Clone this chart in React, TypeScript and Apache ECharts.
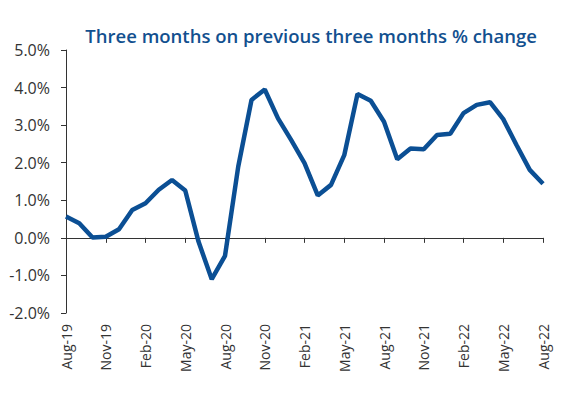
import React, { useEffect, useRef } from "react";
import * as echarts from "echarts";

const months: string[] = [
  "Aug-19", "Sep-19", "Oct-19", "Nov-19", "Dec-19",
  "Jan-20", "Feb-20", "Mar-20", "Apr-20", "May-20", "Jun-20", "Jul-20", "Aug-20", "Sep-20", "Oct-20", "Nov-20", "Dec-20",
  "Jan-21", "Feb-21", "Mar-21", "Apr-21", "May-21", "Jun-21", "Jul-21", "Aug-21", "Sep-21", "Oct-21", "Nov-21", "Dec-21",
  "Jan-22", "Feb-22", "Mar-22", "Apr-22", "May-22", "Jun-22", "Jul-22", "Aug-22",
];

const changePct: number[] = [
  0.57, 0.39, 0.01, 0.03, 0.23,
  0.74, 0.92, 1.28, 1.54, 1.26, -0.1, -1.1, -0.48, 1.9, 3.67, 3.95, 3.18,
  2.6, 1.99, 1.13, 1.41, 2.2, 3.83, 3.65, 3.09, 2.09, 2.38, 2.36, 2.74,
  2.77, 3.32, 3.54, 3.61, 3.16, 2.47, 1.81, 1.44,
];

const titleText = "Three months on previous three months % change";

export default function App() {
  const ref = useRef<HTMLDivElement>(null);
  useEffect(() => {
    document.body.style.margin = "0";
    if (!ref.current) return;
    const chart = echarts.init(ref.current, undefined, { renderer: "svg" });
    const axisColor = "#333333";
    const blue = "#0b4f94";
    chart.setOption({
      animation: false,
      backgroundColor: "#ffffff",
      title: {
        text: titleText,
        right: 25,
        top: 21,
        textStyle: {
          fontFamily: "Open Sans",
          fontSize: 18.5,
          fontWeight: 600,
          color: "#12508f",
        },
      },
      grid: { left: 66, right: 24, top: 50, bottom: 85 },
      xAxis: [
        {
          type: "category",
          data: months,
          boundaryGap: false,
          axisLine: { onZero: true, lineStyle: { color: axisColor, width: 1 } },
          axisTick: { show: true, interval: 2, length: 5, lineStyle: { color: axisColor } },
          axisLabel: { show: false },
          splitLine: { show: false },
        },
        {
          type: "category",
          data: months,
          boundaryGap: false,
          position: "bottom",
          axisLine: { show: false, onZero: false },
          axisTick: { show: false },
          axisLabel: {
            interval: 2,
            rotate: 90,
            margin: 11,
            fontFamily: "Open Sans",
            fontSize: 14,
            color: axisColor,
          },
          splitLine: { show: false },
        },
      ],
      yAxis: {
        type: "value",
        min: -2,
        max: 5,
        interval: 1,
        axisLine: { show: true, onZero: false, lineStyle: { color: axisColor, width: 1 } },
        axisTick: { show: true, length: 5, lineStyle: { color: axisColor } },
        axisLabel: {
          margin: 16,
          fontFamily: "Open Sans",
          fontSize: 16,
          color: axisColor,
          formatter: (v: number) => v.toFixed(1) + "%",
        },
        splitLine: { show: false },
      },
      series: [
        {
          type: "line",
          xAxisIndex: 0,
          data: changePct,
          showSymbol: false,
          symbol: "none",
          lineStyle: { color: blue, width: 4.5 },
        },
      ],
    });
    return () => chart.dispose();
  }, []);
  return <div ref={ref} style={{ width: 567, height: 398 }} />;
}
